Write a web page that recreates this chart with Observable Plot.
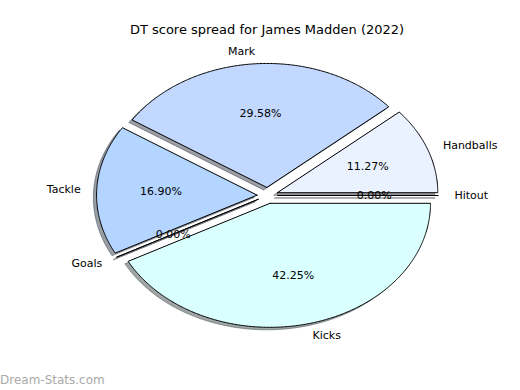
<!DOCTYPE html>
<html>
<head>
<meta charset="utf-8">
<script src="https://cdn.jsdelivr.net/npm/d3@7"></script>
<script src="https://cdn.jsdelivr.net/npm/@observablehq/plot@0.6"></script>
<style>
  html, body { margin: 0; padding: 0; background: #fff; }
  #wrap { position: relative; width: 520px; height: 390px; overflow: hidden; font-family: "DejaVu Sans", sans-serif; }
  #title { position: absolute; left: 0; top: 22px; width: 534px; text-align: center; font-size: 13px; line-height: 16px; color: #000; }
  #chart { position: absolute; left: 0; top: 44px; }
  #mark { position: absolute; left: 0; top: 372px; font-size: 12px; line-height: 16px; color: #aaa; }
  svg { overflow: visible; }
</style>
</head>
<body>
<div id="wrap">
  <div id="title">DT score spread for James Madden (2022)</div>
  <div id="chart"></div>
  <div id="mark">Dream-Stats.com</div>
</div>
<script>
// Data (counter-clockwise from 0°)
const categories = ["Handballs", "Mark", "Tackle", "Goals", "Kicks", "Hitout"];
const values = [8, 21, 12, 0, 30, 0];
const colors = ["#eaf1ff", "#c3d8ff", "#b3d5ff", "#c6e2ff", "#d9ffff", "#e6f0ff"];
const explode = 0.065;
const labelDistance = 1.1;
const pctDistance = 0.6;
const shadowOffset = [-0.02, -0.02];

const total = d3.sum(values);
let acc = 0;
const slices = categories.map((name, i) => {
  const t1 = acc / total * 360;
  acc += values[i];
  const t2 = acc / total * 360;
  const tm = (t1 + t2) / 2 * Math.PI / 180;
  const cx = explode * Math.cos(tm), cy = explode * Math.sin(tm);
  return {name, value: values[i], color: colors[i], t1, t2, tm, cx, cy,
    pct: (values[i] / total * 100).toFixed(2) + "%",
    lx: cx + labelDistance * Math.cos(tm), ly: cy + labelDistance * Math.sin(tm),
    px: cx + pctDistance * Math.cos(tm), py: cy + pctDistance * Math.sin(tm)};
});

function wedgePoints(s, dx = 0, dy = 0) {
  const pts = [{x: s.cx + dx, y: s.cy + dy, name: s.name}];
  const n = Math.max(1, Math.ceil((s.t2 - s.t1) / 0.5));
  for (let k = 0; k <= n; k++) {
    const a = (s.t1 + (s.t2 - s.t1) * k / n) * Math.PI / 180;
    pts.push({x: s.cx + dx + Math.cos(a), y: s.cy + dy + Math.sin(a), name: s.name});
  }
  pts.push({x: s.cx + dx, y: s.cy + dy, name: s.name});
  return pts;
}

const marks = [];
for (const s of slices) {
  const sc = d3.rgb(s.color);
  const shadowColor = d3.rgb(sc.r * 0.3, sc.g * 0.3, sc.b * 0.3).formatHex();
  marks.push(Plot.line(wedgePoints(s, shadowOffset[0], shadowOffset[1]), {
    x: "x", y: "y", fill: shadowColor, fillOpacity: 0.5,
    stroke: shadowColor, strokeOpacity: 0.5, strokeWidth: 1, curve: "linear"
  }));
}
for (const s of slices) {
  marks.push(Plot.line(wedgePoints(s), {
    x: "x", y: "y", fill: s.color, stroke: "#000", strokeWidth: 1,
    strokeLinejoin: "miter", curve: "linear"
  }));
}
marks.push(Plot.text(slices.filter(s => s.lx > 0), {
  x: "lx", y: "ly", text: "name", textAnchor: "start", fontSize: 11, fill: "#000"
}));
marks.push(Plot.text(slices.filter(s => s.lx <= 0), {
  x: "lx", y: "ly", text: "name", textAnchor: "end", fontSize: 11, fill: "#000"
}));
marks.push(Plot.text(slices, {
  x: "px", y: "py", text: "pct", textAnchor: "middle", fontSize: 11, fill: "#000"
}));

const chart = Plot.plot({
  width: 520,
  height: 346,
  margin: 0,
  style: {fontFamily: "DejaVu Sans, sans-serif", background: "transparent", overflow: "visible"},
  x: {domain: [-1, 1], range: [106.5, 427.5], axis: null},
  y: {domain: [-1, 1], range: [275, 27], axis: null},
  marks
});
document.getElementById("chart").appendChild(chart);
</script>
</body>
</html>
